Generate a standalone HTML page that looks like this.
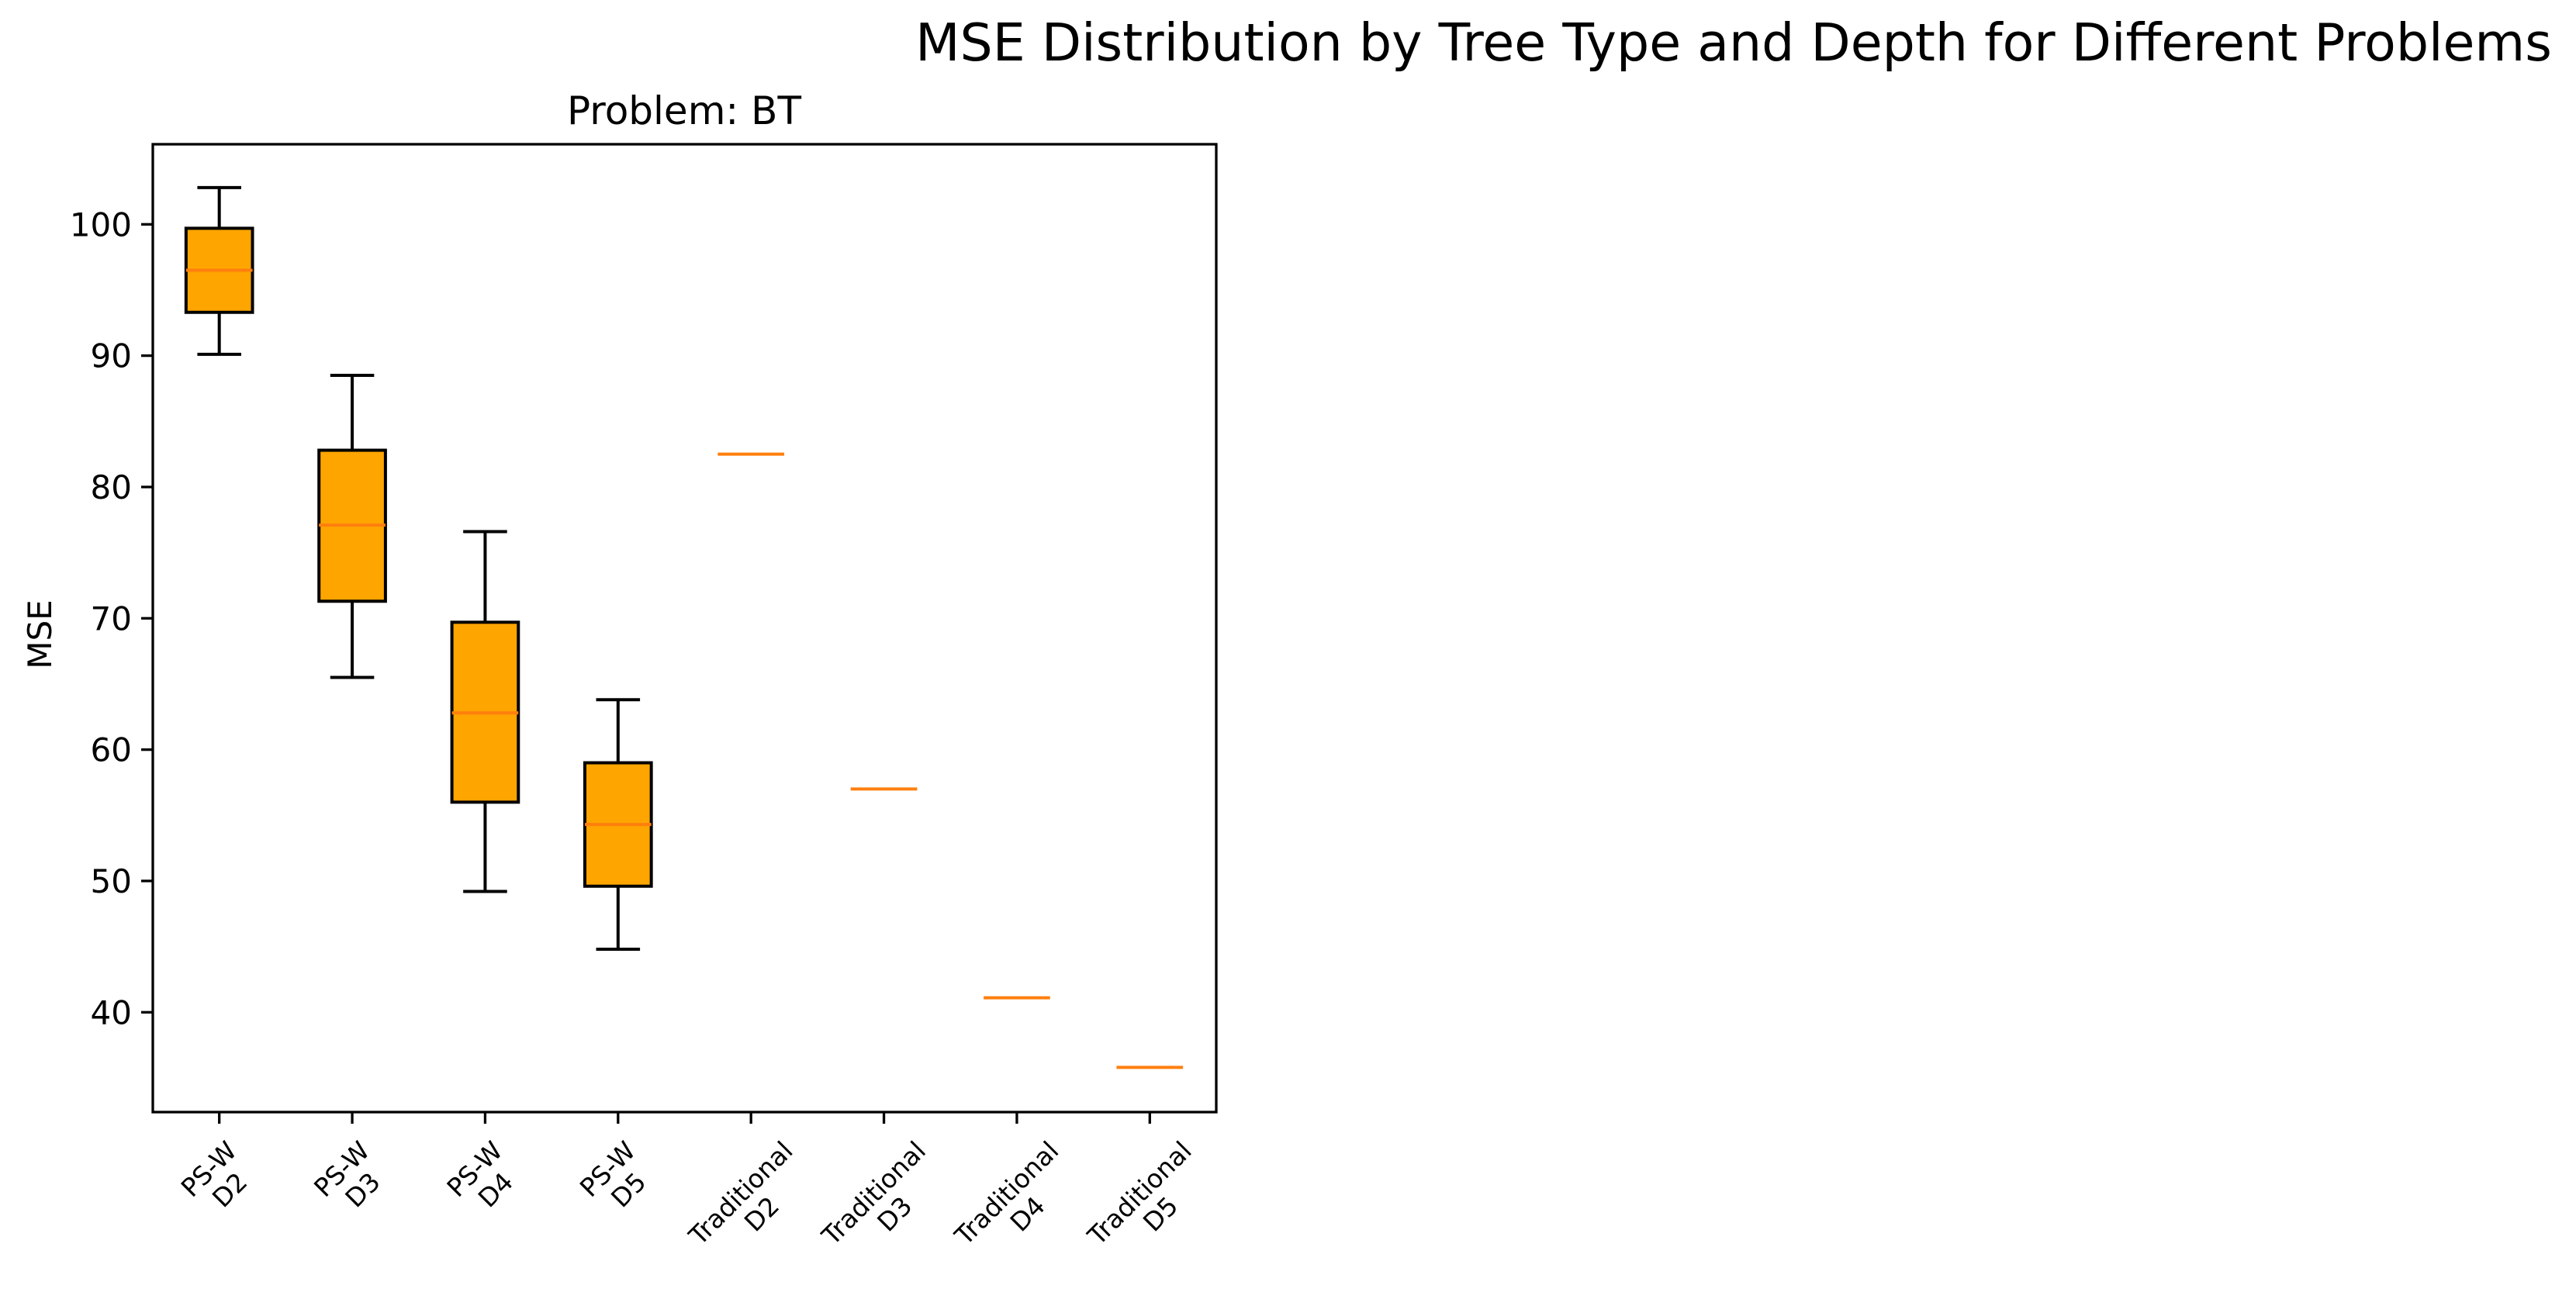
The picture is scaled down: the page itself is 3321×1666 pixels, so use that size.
<!DOCTYPE html>
<html><head><meta charset="utf-8"><style>html,body{margin:0;padding:0;background:#fff}svg{display:block}</style></head>
<body>
<svg id="chart" width="3321" height="1666" viewBox="0 0 3321 1666" xmlns="http://www.w3.org/2000/svg" font-family="DejaVu Sans, Liberation Sans, sans-serif">
<rect width="3321" height="1666" fill="#fff"/>
<text x="2235" y="78" font-size="66.5" text-anchor="middle" fill="#000">MSE Distribution by Tree Type and Depth for Different Problems</text>
<text x="882" y="160" font-size="50" text-anchor="middle" fill="#000">Problem: BT</text>
<text transform="translate(66,818) rotate(-90)" font-size="42" text-anchor="middle" fill="#000">MSE</text>
<g id="plot"></g>
</svg>
<script>
const categories = ["PS-W\nD2","PS-W\nD3","PS-W\nD4","PS-W\nD5","Traditional\nD2","Traditional\nD3","Traditional\nD4","Traditional\nD5"];
const whiskerLow = [90.1, 65.5, 49.2, 44.8, 82.5, 57.0, 41.1, 35.8];
const q1 = [93.3, 71.3, 56.0, 49.6, 82.5, 57.0, 41.1, 35.8];
const medians = [96.5, 77.1, 62.8, 54.3, 82.5, 57.0, 41.1, 35.8];
const q3 = [99.7, 82.8, 69.7, 59.0, 82.5, 57.0, 41.1, 35.8];
const whiskerHigh = [102.8, 88.5, 76.6, 63.8, 82.5, 57.0, 41.1, 35.8];
const yTicks = [40, 50, 60, 70, 80, 90, 100];

const NS = "http://www.w3.org/2000/svg";
const L = 197, R = 1568, T = 186, B = 1434;
const yMin = 32.4, yMax = 106.1;
const y = v => B - (v - yMin) / (yMax - yMin) * (B - T);
const step = (R - L) / categories.length;
const x = i => L + step * (i + 0.5);
const g = document.getElementById('plot');
function el(tag, attrs, parent) {
  const e = document.createElementNS(NS, tag);
  for (const k in attrs) e.setAttribute(k, attrs[k]);
  (parent || g).appendChild(e);
  return e;
}
const boxW = step * 0.5, capW = step * 0.33;
categories.forEach((c, i) => {
  const cx = x(i);
  const grp = el('g', {});
  
  
  if (q3[i] - q1[i] > 0.01) {
    el('line', {x1: cx, x2: cx, y1: y(whiskerLow[i]), y2: y(q1[i]), stroke: '#000', 'stroke-width': 4}, grp);
    el('line', {x1: cx, x2: cx, y1: y(q3[i]), y2: y(whiskerHigh[i]), stroke: '#000', 'stroke-width': 4}, grp);
    el('line', {x1: cx - capW / 2, x2: cx + capW / 2, y1: y(whiskerLow[i]), y2: y(whiskerLow[i]), stroke: '#000', 'stroke-width': 4}, grp);
    el('line', {x1: cx - capW / 2, x2: cx + capW / 2, y1: y(whiskerHigh[i]), y2: y(whiskerHigh[i]), stroke: '#000', 'stroke-width': 4}, grp);
    el('rect', {x: cx - boxW / 2, y: y(q3[i]), width: boxW, height: y(q1[i]) - y(q3[i]), fill: '#FFA500', stroke: '#000', 'stroke-width': 4}, grp);
  }
  el('line', {x1: cx - boxW / 2, x2: cx + boxW / 2, y1: y(medians[i]), y2: y(medians[i]), stroke: '#ff7f0e', 'stroke-width': 4}, grp);
  const tk = el('line', {x1: cx, x2: cx, y1: B, y2: B + 15, stroke: '#000', 'stroke-width': 3.3});
  
  
  const lg = el('g', {});
  
  
  const t = el('text', {'font-size': 33, 'text-anchor': 'middle', fill: '#000'}, lg);
  c.split('\n').forEach((ln, k) => {
    const ts = el('tspan', {x: 0, dy: k === 0 ? 0 : 38}, t);
    ts.textContent = ln;
  });
  const bb = t.getBBox();
  const w = bb.width, h = bb.height;
  const ccx = bb.x + w / 2, ccy = bb.y + h / 2;
  const rh = (w + h) * 0.7071;
  const targetY = B + 30 + rh / 2;
  lg.setAttribute('transform', `translate(${cx},${targetY}) rotate(-45) translate(${-ccx},${-ccy})`);
});
yTicks.forEach(v => {
  const tk = el('line', {x1: L - 15, x2: L, y1: y(v), y2: y(v), stroke: '#000', 'stroke-width': 3.3});
  
  
  const t = el('text', {x: L - 27, y: y(v) + 15, 'font-size': 42, 'text-anchor': 'end', fill: '#000'});
  
  
  t.textContent = v;
});
const frame = el('rect', {x: L, y: T, width: R - L, height: B - T, fill: 'none', stroke: '#000', 'stroke-width': 3.3});


</script>
</body></html>
